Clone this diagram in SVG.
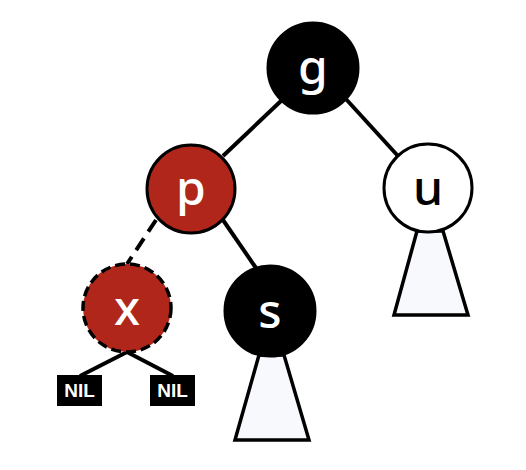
<svg xmlns="http://www.w3.org/2000/svg" width="526" height="470" viewBox="0 0 526 470">
<style>
.edge{stroke:#000;stroke-width:4;fill:none}
.node{stroke:#000;stroke-width:3}
.red{fill:#b0261a}
.blk{fill:#000}
.wht{fill:#fff}
.lbl{font-family:"Noto Sans","DejaVu Sans",sans-serif;font-size:48px;font-weight:500;text-anchor:middle}
.tri{fill:#f8f9fc;stroke:#000;stroke-width:3.5;stroke-linejoin:miter}
.nil{font-family:"Liberation Sans",Arial,sans-serif;font-size:19px;font-weight:bold;fill:#fff;text-anchor:middle}
</style>
<rect width="526" height="470" fill="#fff"/>
<g id="connectors">
<line class="edge" x1="282" y1="100" x2="223" y2="156"/>
<line class="edge" x1="345" y1="98" x2="398" y2="156"/>
<line class="edge" x1="156" y1="220" x2="127" y2="264" stroke-dasharray="14,8"/>
<line class="edge" x1="223" y1="220" x2="256" y2="268"/>
<line class="edge" x1="127" y1="352" x2="80" y2="376"/>
<line class="edge" x1="127" y1="352" x2="173" y2="376"/>
</g>
<g id="tri-s"><polygon class="tri" points="259,355 284,355 309,440 235,440"/></g>
<g id="tri-u"><polygon class="tri" points="417,231 443,231 468,315 394,315"/></g>
<g id="node-g">
<circle class="node blk" cx="313" cy="68" r="45"/>
<text class="lbl" x="313" y="84" fill="#fff">g</text>
</g>
<g id="node-p">
<circle class="node red" cx="191" cy="189" r="44"/>
<text class="lbl" x="191" y="205" fill="#fff">p</text>
</g>
<g id="node-u">
<circle class="node wht" cx="428" cy="188" r="44"/>
<text class="lbl" x="428" y="205" fill="#000">u</text>
</g>
<g id="node-x">
<circle class="red" cx="127" cy="308" r="44" stroke="#000" stroke-width="3.5" stroke-dasharray="10,5"/>
<text class="lbl" x="127" y="325" fill="#fff">x</text>
</g>
<g id="node-s">
<circle class="node blk" cx="270" cy="311" r="45"/>
<text class="lbl" x="270" y="328" fill="#fff">s</text>
</g>
<g id="nil-left">
<rect x="57" y="375" width="45" height="31" fill="#000"/>
<text class="nil" x="79.5" y="397">NIL</text>
</g>
<g id="nil-right">
<rect x="150" y="375" width="45" height="31" fill="#000"/>
<text class="nil" x="172.5" y="397">NIL</text>
</g>
</svg>
